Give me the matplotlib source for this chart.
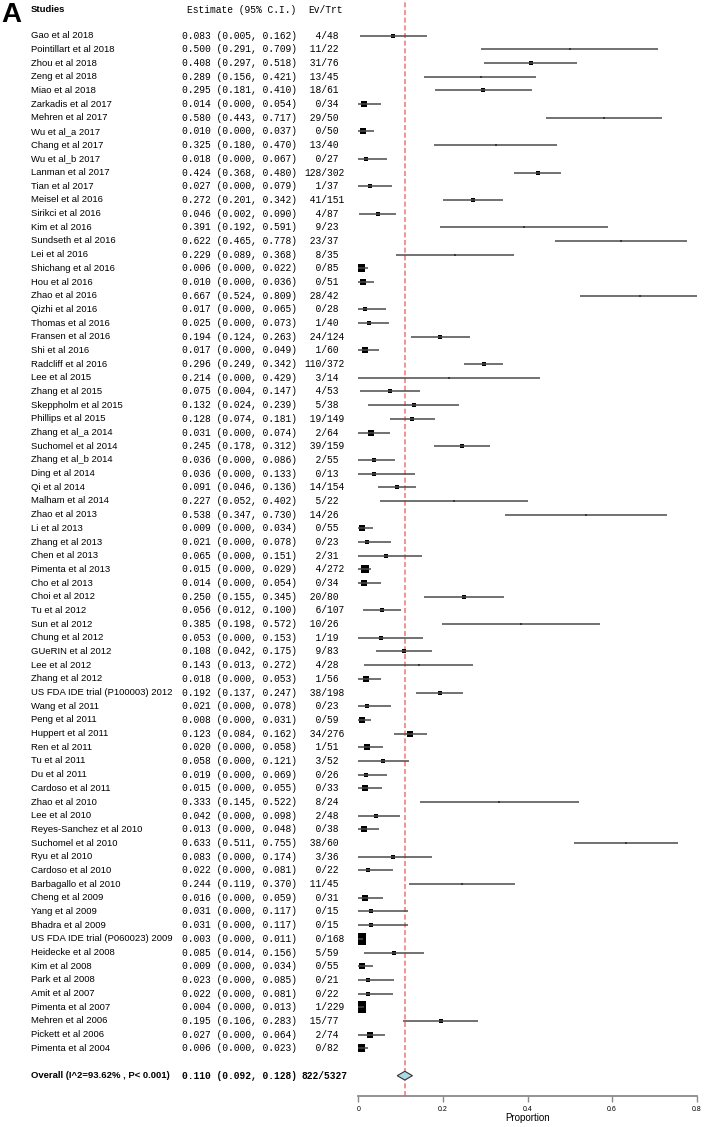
import numpy as np
import matplotlib
matplotlib.use("Agg")
import matplotlib.pyplot as plt
from matplotlib.transforms import blended_transform_factory
from matplotlib.patches import Polygon

studies = ["Gao et al 2018", "Pointillart et al 2018", "Zhou et al 2018", "Zeng et al 2018", "Miao et al 2018",
           "Zarkadis et al 2017", "Mehren et al 2017", "Wu et al_a 2017", "Chang et al 2017", "Wu et al_b 2017",
           "Lanman et al 2017", "Tian et al 2017", "Meisel et al 2016", "Sirikci et al 2016", "Kim et al 2016",
           "Sundseth et al 2016", "Lei et al 2016", "Shichang et al 2016", "Hou et al 2016", "Zhao et al 2016",
           "Qizhi et al 2016", "Thomas et al 2016", "Fransen et al 2016", "Shi et al 2016", "Radcliff et al 2016",
           "Lee et al 2015", "Zhang et al 2015", "Skeppholm et al 2015", "Phillips et al 2015", "Zhang et al_a 2014",
           "Suchomel et al 2014", "Zhang et al_b 2014", "Ding et al 2014", "Qi et al 2014", "Malham et al 2014",
           "Zhao et al 2013", "Li et al 2013", "Zhang et al 2013", "Chen et al 2013", "Pimenta et al 2013",
           "Cho et al 2013", "Choi et al 2012", "Tu et al 2012", "Sun et al 2012", "Chung et al 2012",
           "GUeRIN et al 2012", "Lee et al 2012", "Zhang et al 2012", "US FDA IDE trial (P100003) 2012",
           "Wang et al 2011", "Peng et al 2011", "Huppert et al 2011", "Ren et al 2011", "Tu et al 2011",
           "Du et al 2011", "Cardoso et al 2011", "Zhao et al 2010", "Lee et al 2010", "Reyes-Sanchez et al 2010",
           "Suchomel et al 2010", "Ryu et al 2010", "Cardoso et al 2010", "Barbagallo et al 2010", "Cheng et al 2009",
           "Yang et al 2009", "Bhadra et al 2009", "US FDA IDE trial (P060023) 2009", "Heidecke et al 2008",
           "Kim et al 2008", "Park et al 2008", "Amit et al 2007", "Pimenta et al 2007", "Mehren et al 2006",
           "Pickett et al 2006", "Pimenta et al 2004"]

estimate = [0.083, 0.500, 0.408, 0.289, 0.295, 0.014, 0.580, 0.010, 0.325, 0.018,
            0.424, 0.027, 0.272, 0.046, 0.391, 0.622, 0.229, 0.006, 0.010, 0.667,
            0.017, 0.025, 0.194, 0.017, 0.296, 0.214, 0.075, 0.132, 0.128, 0.031,
            0.245, 0.036, 0.036, 0.091, 0.227, 0.538, 0.009, 0.021, 0.065, 0.015,
            0.014, 0.250, 0.056, 0.385, 0.053, 0.108, 0.143, 0.018, 0.192, 0.021,
            0.008, 0.123, 0.020, 0.058, 0.019, 0.015, 0.333, 0.042, 0.013, 0.633,
            0.083, 0.022, 0.244, 0.016, 0.031, 0.031, 0.003, 0.085, 0.009, 0.023,
            0.022, 0.004, 0.195, 0.027, 0.006]

lower = [0.005, 0.291, 0.297, 0.156, 0.181, 0.000, 0.443, 0.000, 0.180, 0.000,
         0.368, 0.000, 0.201, 0.002, 0.192, 0.465, 0.089, 0.000, 0.000, 0.524,
         0.000, 0.000, 0.124, 0.000, 0.249, 0.000, 0.004, 0.024, 0.074, 0.000,
         0.178, 0.000, 0.000, 0.046, 0.052, 0.347, 0.000, 0.000, 0.000, 0.000,
         0.000, 0.155, 0.012, 0.198, 0.000, 0.042, 0.013, 0.000, 0.137, 0.000,
         0.000, 0.084, 0.000, 0.000, 0.000, 0.000, 0.145, 0.000, 0.000, 0.511,
         0.000, 0.000, 0.119, 0.000, 0.000, 0.000, 0.000, 0.014, 0.000, 0.000,
         0.000, 0.000, 0.106, 0.000, 0.000]

upper = [0.162, 0.709, 0.518, 0.421, 0.410, 0.054, 0.717, 0.037, 0.470, 0.067,
         0.480, 0.079, 0.342, 0.090, 0.591, 0.778, 0.368, 0.022, 0.036, 0.809,
         0.065, 0.073, 0.263, 0.049, 0.342, 0.429, 0.147, 0.239, 0.181, 0.074,
         0.312, 0.086, 0.133, 0.136, 0.402, 0.730, 0.034, 0.078, 0.151, 0.029,
         0.054, 0.345, 0.100, 0.572, 0.153, 0.175, 0.272, 0.053, 0.247, 0.078,
         0.031, 0.162, 0.058, 0.121, 0.069, 0.055, 0.522, 0.098, 0.048, 0.755,
         0.174, 0.081, 0.370, 0.059, 0.117, 0.117, 0.011, 0.156, 0.034, 0.085,
         0.081, 0.013, 0.283, 0.064, 0.023]

events = [4, 11, 31, 13, 18, 0, 29, 0, 13, 0,
          128, 1, 41, 4, 9, 23, 8, 0, 0, 28,
          0, 1, 24, 1, 110, 3, 4, 5, 19, 2,
          39, 2, 0, 14, 5, 14, 0, 0, 2, 4,
          0, 20, 6, 10, 1, 9, 4, 1, 38, 0,
          0, 34, 1, 3, 0, 0, 8, 2, 0, 38,
          3, 0, 11, 0, 0, 0, 0, 5, 0, 0,
          0, 1, 15, 2, 0]

totals = [48, 22, 76, 45, 61, 34, 50, 50, 40, 27,
          302, 37, 151, 87, 23, 37, 35, 85, 51, 42,
          28, 40, 124, 60, 372, 14, 53, 38, 149, 64,
          159, 55, 13, 154, 22, 26, 55, 23, 31, 272,
          34, 80, 107, 26, 19, 83, 28, 56, 198, 23,
          59, 276, 51, 52, 26, 33, 24, 48, 38, 60,
          36, 22, 45, 31, 15, 15, 168, 59, 55, 21,
          22, 229, 77, 74, 82]

overall_label = "Overall (I^2=93.62% , P< 0.001)"
overall_est, overall_lo, overall_hi = 0.110, 0.092, 0.128
overall_ev, overall_tot = 822, 5327
xticks = [0, 0.2, 0.4, 0.6, 0.8]
xticklabels = ["0", "0.2", "0.4", "0.6", "0.8"]

W, H = 705, 1127
DPI = 100
fig = plt.figure(figsize=(W / DPI, H / DPI), dpi=DPI)

# pixel geometry
x0_px, x1_px = 358.3, 696.7
spine_px = 1095.7
row0_px, row_step = 35.7, 13.684

def px2row(y):
    return (y - row0_px) / row_step

ax = fig.add_axes([x0_px / W, 1 - spine_px / H, (x1_px - x0_px) / W, spine_px / H])
ax.set_xlim(0, 0.8)
ax.set_ylim(px2row(spine_px), px2row(0))
for s in ["top", "right", "left"]:
    ax.spines[s].set_visible(False)
ax.spines["bottom"].set_color("#8a8a8a")
ax.spines["bottom"].set_linewidth(1.3)
ax.set_yticks([])
ax.set_xticks(xticks)
ax.set_xticklabels(xticklabels, fontsize=5, family="Liberation Sans")
ax.tick_params(axis="x", length=4, width=1, color="#8a8a8a", pad=3.5)
ax.set_xlabel("Proportion", fontsize=7, family="Liberation Sans", labelpad=0)
ax.patch.set_alpha(0)

n = len(studies)
rows = np.arange(n)
est = np.array(estimate)
lo = np.array(lower)
hi = np.array(upper)
se = (hi - est) / 1.96
side_px = 11.0 * np.sqrt(0.0046 / se)

# reference line
ax.axvline(overall_est, color="#f08080", ls=(0, (3, 1.6)), lw=1.2, zorder=1)

# boxes and CI lines
for i in range(n):
    ax.plot([lo[i], hi[i]], [rows[i], rows[i]], color="#4a4a4a", lw=1.1, zorder=4,
            solid_capstyle="butt")
    ax.plot(est[i], rows[i], marker="s", color="black", markersize=side_px[i] * 72 / DPI,
            markeredgewidth=0, zorder=3)

overall_row = 76.0
dh = 4.4 / row_step
diamond = Polygon([[overall_lo, overall_row], [overall_est, overall_row - dh],
                   [overall_hi, overall_row], [overall_est, overall_row + dh]],
                  closed=True, facecolor="#add8e6", edgecolor="#333333", lw=0.8, zorder=5)
ax.add_patch(diamond)

tr = blended_transform_factory(fig.transFigure, ax.transData)
sans = "Liberation Sans"
mono = "Liberation Mono"
fs_label = 6.8
fs_mono = 6.9

# headers
hdr_row = px2row(10)
ax.text(31 / W, hdr_row, "Studies", transform=tr, fontsize=fs_label, family=sans,
        fontweight="bold", va="center", ha="left", clip_on=False)
ax.text(296.7 / W, hdr_row, "Estimate (95% C.I.)", transform=tr, fontsize=fs_mono, family=mono,
        va="center", ha="right", clip_on=False)
ax.text(308 / W, hdr_row, "Ev/Trt", transform=tr, fontsize=fs_mono, family=mono,
        va="center", ha="left", clip_on=False)
fig.text(1 / W, 1 - 15.5 / H, "A", fontsize=20, family=sans, fontweight="bold",
         va="center", ha="left")

for i in range(n):
    ax.text(31 / W, rows[i], studies[i], transform=tr, fontsize=fs_label, family=sans,
            va="center", ha="left", clip_on=False)
    ax.text(181.7 / W, rows[i], f"{est[i]:.3f} ({lo[i]:.3f}, {hi[i]:.3f})", transform=tr,
            fontsize=fs_mono, family=mono, va="center", ha="left", clip_on=False)
    ax.text(304.5 / W, rows[i], f"{events[i]:>3d}/{totals[i]}", transform=tr,
            fontsize=fs_mono, family=mono, va="center", ha="left", clip_on=False)

ax.text(31 / W, overall_row, overall_label, transform=tr, fontsize=fs_label, family=sans,
        fontweight="bold", va="center", ha="left", clip_on=False)
ax.text(181.7 / W, overall_row, f"{overall_est:.3f} ({overall_lo:.3f}, {overall_hi:.3f})",
        transform=tr, fontsize=fs_mono, family=mono, fontweight="bold", va="center", ha="left",
        clip_on=False)
ax.text(301 / W, overall_row, f"{overall_ev}/{overall_tot}", transform=tr, fontsize=fs_mono,
        family=mono, fontweight="bold", va="center", ha="left", clip_on=False)

fig.savefig("out.png", dpi=DPI)
